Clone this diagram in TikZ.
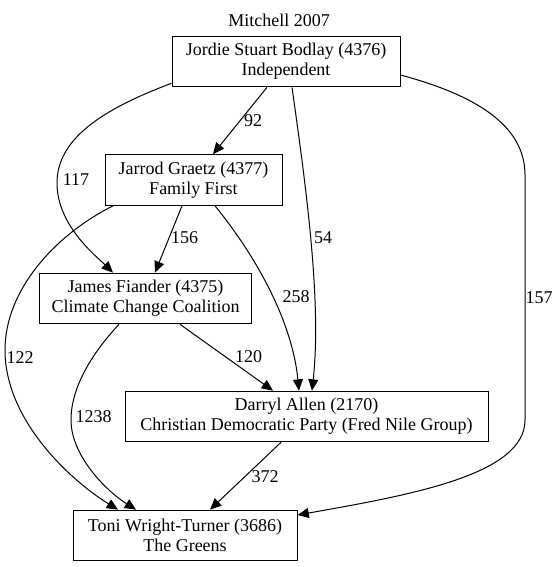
\documentclass[tikz,border=0pt]{standalone}
\usepackage{fontspec}
\setmainfont{Liberation Serif}
\usetikzlibrary{arrows.meta,calc}
\begin{document}
\begin{tikzpicture}[x=0.75pt,y=-0.75pt,
    font=\fontsize{13.5}{15}\selectfont,
    box/.style={draw,line width=0.75pt,align=center,minimum height=38pt,inner sep=0pt},
    edge/.style={line width=0.75pt,-{Triangle[length=8.5pt,width=7.5pt]}},
    lbl/.style={inner sep=0pt}]
    \useasboundingbox (0,0) rectangle (559,567);
    \node (title) at (279,20) {Mitchell 2007};
    % candidates
    \node[box,minimum width=171pt] (jordie) at (286,61.5) {Jordie Stuart Bodlay (4376)\\Independent};
    \node[box,minimum width=132.75pt] (jarrod) at (193.5,180) {Jarrod Graetz (4377)\\Family First};
    \node[box,minimum width=159pt] (james) at (145.5,298.5) {James Fiander (4375)\\Climate Change Coalition};
    \node[box,minimum width=272.25pt] (darryl) at (306.5,416.5) {Darryl Allen (2170)\\Christian Democratic Party (Fred Nile Group)};
    \node[box,minimum width=168pt] (toni) at (185,535.5) {Toni Wright-Turner (3686)\\The Greens};
    % preference flows
    \draw[edge] ($(jordie.south)+(-19,0)$) -- ($(jarrod.north)+(19.5,0)$);
    \draw[edge] ($(jordie.south west)+(0,-4)$) .. controls (100,110) and (57,140) .. (57,183)
        .. controls (57,225) and (95,255) .. ($(james.north)+(-32.5,0)$);
    \draw[edge] ($(jordie.south)+(6,0)$) .. controls (305,180) and (322,300) .. ($(darryl.north)+(5.5,0)$);
    \draw[edge] ($(jordie.east)+(0,13.5)$) .. controls (475,95) and (525,125) .. (525,175) -- (525,420)
        .. controls (525,475) and (410,495) .. ($(toni.east)+(0,-20.5)$);
    \draw[edge] ($(jarrod.south)+(-11.5,0)$) -- ($(james.north)+(9.5,0)$);
    \draw[edge] ($(jarrod.south)+(21.5,0)$) .. controls (255,255) and (292,320) .. ($(darryl.north)+(-7.5,0)$);
    \draw[edge] ($(jarrod.south)+(-80.5,0)$) .. controls (55,235) and (5,290) .. (5,350)
        .. controls (5,420) and (70,480) .. ($(toni.north)+(-67,0)$);
    \draw[edge] ($(james.south)+(34.5,0)$) -- ($(darryl.north)+(-33.5,0)$);
    \draw[edge] ($(james.south)+(-26.5,0)$) .. controls (95,350) and (71,385) .. (71,420)
        .. controls (71,455) and (105,490) .. ($(toni.north)+(-49,0)$);
    \draw[edge] ($(darryl.south)+(-25.5,0)$) -- ($(toni.north)+(25,0)$);
    % vote counts
    \node[lbl] (v92) at (253,121) {92};
    \node[lbl] (v117) at (76,180) {117};
    \node[lbl] (v54) at (323,238) {54};
    \node[lbl] (v157) at (539,298) {157};
    \node[lbl] (v156) at (184.5,238) {156};
    \node[lbl] (v258) at (296,297) {258};
    \node[lbl] (v122) at (20,358) {122};
    \node[lbl] (v120) at (248.5,357) {120};
    \node[lbl] (v1238) at (93.5,417) {1238};
    \node[lbl] (v372) at (265,477) {372};
\end{tikzpicture}
\end{document}
